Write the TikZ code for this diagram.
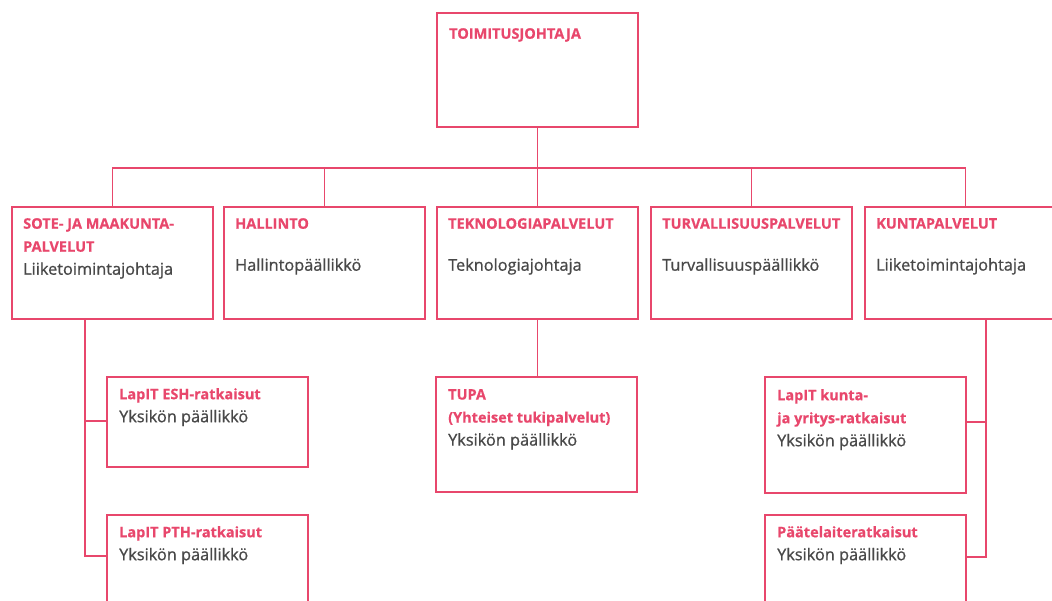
\documentclass[tikz,border=0pt]{standalone}
\usepackage{fontspec}
\setmainfont{Open Sans}[BoldFeatures={FakeBold=0.5}]
\newfontfamily\runko{Open Sans}[FakeBold=0.9]
\usepackage{xcolor}
\usetikzlibrary{positioning}
\definecolor{Lapi}{HTML}{E8476C}
\definecolor{Harmaa}{HTML}{484848}
\newcommand{\ots}[1]{{\color{Lapi}\normalfont\bfseries\fontsize{14.5}{23}\selectfont #1}}

\begin{document}
\begin{tikzpicture}[x=1pt,y=-1pt,
  yksikko/.style={draw=Lapi,line width=1.8pt,minimum width=201pt,inner sep=0pt,anchor=north west},
  teksti/.style={text=Harmaa,font=\runko\fontsize{16.3}{23}\selectfont,align=left,inner sep=0pt,anchor=north west},
  yhteys/.style={draw=Lapi,line width=1.8pt}]
  \useasboundingbox (0,0) rectangle (1052,600);

  % boxes
  \node[yksikko,minimum height=114pt] (toimitus) at (436,12) {};
  \node[yksikko,minimum height=112pt] (sote)     at (11,206)  {};
  \node[yksikko,minimum height=112pt] (hallinto) at (223,206) {};
  \node[yksikko,minimum height=112pt] (tekno)    at (436,206) {};
  \node[yksikko,minimum height=112pt] (turva)    at (650,206) {};
  \node[yksikko,minimum height=112pt] (kunta)    at (864,206) {};
  \node[yksikko,minimum height=90pt]  (esh)      at (106,376) {};
  \node[yksikko,minimum height=113pt] (pth)      at (106,514) {};
  \node[yksikko,minimum height=115pt] (tupa)     at (435,376) {};
  \node[yksikko,minimum height=116pt] (kuntayr)  at (764,376) {};
  \node[yksikko,minimum height=113pt] (paate)    at (764,514) {};

  % texts
  \node[teksti,below right=16pt and 13pt of toimitus.north west] (toimitus-t) {\ots{TOIMITUSJOHTAJA}};
  \node[teksti,below right=12pt and 12pt of sote.north west] (sote-t)
    {\ots{SOTE- JA MAAKUNTA-}\\ \ots{PALVELUT}\\ Liiketoimintajohtaja};
  \node[teksti,below right=12pt and 12pt of hallinto.north west] (hallinto-t)
    {\ots{HALLINTO}\\[19pt] Hallintopäällikkö};
  \node[teksti,below right=12pt and 12pt of tekno.north west] (tekno-t)
    {\ots{TEKNOLOGIAPALVELUT}\\[19pt] Teknologiajohtaja};
  \node[teksti,below right=12pt and 12pt of turva.north west] (turva-t)
    {\ots{TURVALLISUUSPALVELUT}\\[19pt] Turvallisuuspäällikkö};
  \node[teksti,below right=12pt and 12pt of kunta.north west] (kunta-t)
    {\ots{KUNTAPALVELUT}\\[19pt] Liiketoimintajohtaja};
  \node[teksti,below right=12pt and 13pt of esh.north west] (esh-t)
    {\ots{LapIT ESH-ratkaisut}\\ Yksikön päällikkö};
  \node[teksti,below right=12pt and 13pt of pth.north west] (pth-t)
    {\ots{LapIT PTH-ratkaisut}\\ Yksikön päällikkö};
  \node[teksti,below right=13pt and 13pt of tupa.north west] (tupa-t)
    {\ots{TUPA}\\ \ots{(Yhteiset tukipalvelut)}\\ Yksikön päällikkö};
  \node[teksti,below right=13pt and 13pt of kuntayr.north west] (kuntayr-t)
    {\ots{LapIT kunta-}\\ \ots{ja yritys-ratkaisut}\\ Yksikön päällikkö};
  \node[teksti,below right=12pt and 13pt of paate.north west] (paate-t)
    {\ots{Päätelaiteratkaisut}\\ Yksikön päällikkö};

  % connectors
  \coordinate (vayla) at (toimitus.south |- 0,168);
  \draw[yhteys] (toimitus.south) -- (vayla);
  \foreach \b in {sote,hallinto,tekno,turva,kunta}
    \draw[yhteys] (\b.north) |- (vayla);
  \draw[yhteys] (tekno.south) -- (tupa.north -| tekno.south);
  \draw[yhteys] ([xshift=74pt]sote.south west) |- ([yshift=-45pt]esh.north west);
  \draw[yhteys] ([xshift=74pt]sote.south west) |- ([yshift=-42pt]pth.north west);
  \draw[yhteys] ([xshift=122pt]kunta.south west) |- ([yshift=-46pt]kuntayr.north east);
  \draw[yhteys] ([xshift=122pt]kunta.south west) |- ([yshift=-43pt]paate.north east);
\end{tikzpicture}
\end{document}
